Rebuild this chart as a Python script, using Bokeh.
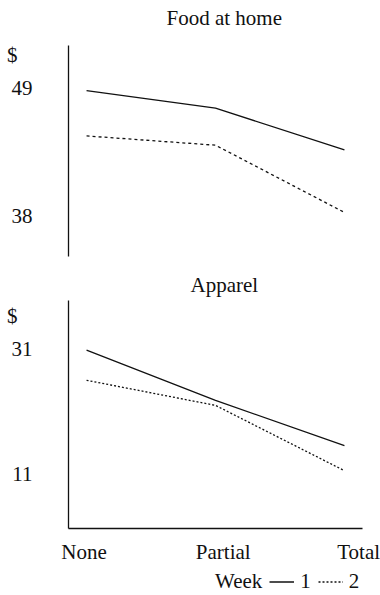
from bokeh.plotting import figure
from bokeh.models import FixedTicker, Legend, LegendItem, Range1d, LinearAxis, Title
from bokeh.layouts import column
from bokeh.embed import file_html
from bokeh.resources import INLINE

CATEGORIES = ["None", "Partial", "Total"]
X = [0, 1, 2]
FOOD_WEEK1 = [48.8, 47.3, 43.7]
FOOD_WEEK2 = [44.9, 44.1, 38.3]
APPAREL_WEEK1 = [30.8, 22.8, 15.6]
APPAREL_WEEK2 = [26.0, 22.0, 11.6]
FOOD_TICKS = [38, 49]
APPAREL_TICKS = [11, 31]
WEEKS = ["1", "2"]
KEY_TITLE = "Week"
CATEGORY_LABEL_X = [-0.02, 1.06, 2.11]
UNIT = "$"

FONT = "Liberation Serif"
FS = "21px"
INK = "#111111"
DASH = "2 2"


def style_axis(ax):
    ax.major_tick_out = 0
    ax.major_tick_in = 0
    ax.minor_tick_out = 0
    ax.minor_tick_in = 0
    ax.major_label_text_font = FONT
    ax.major_label_text_font_size = FS
    ax.major_label_text_color = INK
    ax.axis_line_color = INK
    ax.axis_line_width = 1.3


def base(title, ticks, y0, y1, frame_h, top, bottom, dollar_y, title_offset,
         standoff):
    p = figure(frame_width=294, frame_height=frame_h,
               min_border_left=68, min_border_right=18,
               min_border_top=top, min_border_bottom=bottom,
               x_range=Range1d(-0.14, 2.14), y_range=Range1d(y0, y1),
               output_backend="svg", toolbar_location=None,
               x_axis_location=None, title=title)
    p.outline_line_color = None
    p.grid.visible = False
    p.title.align = "left"
    p.title.offset = title_offset
    p.title.standoff = standoff
    p.title.text_font = FONT
    p.title.text_font_size = FS
    p.title.text_font_style = "normal"
    p.title.text_color = INK
    ax = p.yaxis[0]
    ax.ticker = FixedTicker(ticks=ticks)
    style_axis(ax)
    ax.major_label_standoff = 36
    ua = LinearAxis(ticker=FixedTicker(ticks=[dollar_y]),
                    major_label_overrides={dollar_y: UNIT})
    style_axis(ua)
    ua.axis_line_alpha = 0
    ua.major_label_standoff = -9
    p.add_layout(ua, "left")
    return p


top = base("Food at home", FOOD_TICKS, 34.5, 52.7, 211, 45, 9, 51.85, 98, 0)
# thin spacer between the title and the frame to lift the title a little
top.add_layout(Title(text=" ", text_font_size="1px", standoff=13), "above")
top.line(X, FOOD_WEEK1, line_color=INK, line_width=1.3)
top.line(X, FOOD_WEEK2, line_color=INK, line_width=1.3, line_dash="3 3")

bot = base("Apparel", APPAREL_TICKS, 2.4, 38.7, 228, 35, 0, 36.3, 122, 7)
bot.line(X, APPAREL_WEEK1, line_color=INK, line_width=1.3)
bot.line(X, APPAREL_WEEK2, line_color=INK, line_width=1.3, line_dash=DASH)

xa = LinearAxis(ticker=FixedTicker(ticks=CATEGORY_LABEL_X),
                major_label_overrides={x: c for x, c in zip(CATEGORY_LABEL_X, CATEGORIES)})
style_axis(xa)
xa.major_label_standoff = 11
bot.add_layout(xa, "below")

# key strip under the chart: the samples are drawn from the same series,
# but outside this strip's ranges, so only the legend shows them
key = figure(width=380, height=30, min_border=0,
             x_range=Range1d(0, 1), y_range=Range1d(0, 1),
             x_axis_location=None, y_axis_location=None,
             output_backend="svg", toolbar_location=None)
key.outline_line_color = None
key.grid.visible = False
k0 = key.line(X, APPAREL_WEEK1, line_alpha=0)
k1 = key.line(X, APPAREL_WEEK1, line_color=INK, line_width=1.3)
k2 = key.line(X, APPAREL_WEEK2, line_color=INK, line_width=1.3, line_dash=DASH)

legend = Legend(items=[LegendItem(label=KEY_TITLE, renderers=[k0]),
                       LegendItem(label=WEEKS[0], renderers=[k1]),
                       LegendItem(label=WEEKS[1], renderers=[k2])],
                orientation="horizontal", location="left",
                border_line_alpha=0, background_fill_alpha=0,
                padding=0, margin=116,
                glyph_width=25, glyph_height=20, spacing=7,
                label_standoff=6, label_height=20, label_width=0,
                label_text_font=FONT, label_text_font_size=FS,
                label_text_color=INK)
key.add_layout(legend)

layout = column(top, bot, key, spacing=0)
open("out.html", "w").write(file_html(layout, INLINE))
